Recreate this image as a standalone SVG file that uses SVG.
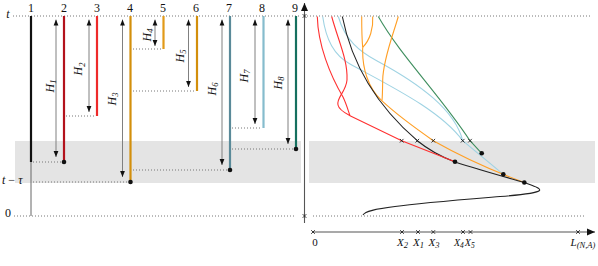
<svg xmlns="http://www.w3.org/2000/svg" width="598" height="266" viewBox="0 0 598 266">
<style>
.dot{stroke:#777;stroke-width:1;stroke-dasharray:1 2;fill:none}
.band{fill:#e4e4e4}
.col{fill:none;stroke-width:2.2}
.harr{stroke:#808080;stroke-width:1;fill:none;marker-start:url(#ah);marker-end:url(#ah)}
.lbl{font-family:"Liberation Serif","DejaVu Serif",serif;font-size:12px;fill:#111}
.axl{font-size:11px}
.it{font-style:italic}
.sub{font-size:8.5px}
.cv{fill:none;stroke-width:1.1}
.xm{stroke:#222;stroke-width:0.9;fill:none}
.ax{stroke:#555;stroke-width:1.1;fill:none}
</style>
<defs>
<marker id="ah" viewBox="0 0 6 6" refX="6" refY="3" markerWidth="6" markerHeight="6" markerUnits="userSpaceOnUse" orient="auto-start-reverse">
<path d="M0,0.6 L6,3 L0,5.4 z" fill="#111"/>
</marker>
<marker id="axh" viewBox="0 0 8 8" refX="8" refY="4" markerWidth="8" markerHeight="8" markerUnits="userSpaceOnUse" orient="auto">
<path d="M0,0.5 L8,4 L0,7.5 z" fill="#111"/>
</marker>
<path id="cx" d="M-1.8,-1.8 L1.8,1.8 M-1.8,1.8 L1.8,-1.8" class="xm"/>
</defs>
<rect width="598" height="266" fill="#fff"/>
<rect class="band" x="15" y="141" width="286" height="42"/>
<rect class="band" x="309" y="141" width="286" height="42"/>
<g id="levels">
<line class="dot" x1="13" y1="16" x2="299" y2="16"/>
<line class="dot" x1="14" y1="216" x2="296" y2="216"/>
<line class="dot" x1="307" y1="16" x2="591" y2="16"/>
<line class="dot" x1="313" y1="216" x2="584" y2="216"/>
<line class="dot" x1="33" y1="162" x2="63" y2="162"/>
<line class="dot" x1="66" y1="116" x2="96" y2="116"/>
<line class="dot" x1="33" y1="182" x2="129" y2="182"/>
<line class="dot" x1="133" y1="49" x2="162" y2="49"/>
<line class="dot" x1="133" y1="91" x2="196" y2="91"/>
<line class="dot" x1="133" y1="170" x2="229" y2="170"/>
<line class="dot" x1="232" y1="128" x2="262" y2="128"/>
<line class="dot" x1="232" y1="149" x2="295" y2="149"/>
</g>
<g id="left-labels" class="lbl">
<text x="8" y="18" class="it" text-anchor="middle">t</text>
<text x="2" y="184"><tspan class="it">t</tspan> − <tspan class="it">τ</tspan></text>
<text x="8" y="217" text-anchor="middle">0</text>
</g>
<g id="col1"><line x1="31" y1="16" x2="31" y2="162" class="col" stroke="#111" stroke-width="2.5"/><line x1="31" y1="162" x2="31" y2="216" stroke="#666" stroke-width="1"/><text class="lbl" x="31" y="12" text-anchor="middle">1</text></g>
<g id="col2"><line x1="64" y1="16" x2="64" y2="162" class="col" stroke="#b3121c"/><circle cx="64" cy="162" r="2.3" fill="#111"/><text class="lbl" x="64" y="12" text-anchor="middle">2</text>
<line class="harr" x1="56" y1="19.5" x2="56" y2="157"/><text class="lbl it" transform="translate(53.5,86) rotate(-90)" text-anchor="middle">H<tspan class="sub" dy="2.5">1</tspan></text></g>
<g id="col3"><line x1="97" y1="16" x2="97" y2="116" class="col" stroke="#ee2a2a"/><text class="lbl" x="97" y="12" text-anchor="middle">3</text>
<line class="harr" x1="89" y1="19.5" x2="89" y2="112"/><text class="lbl it" transform="translate(82,69) rotate(-90)" text-anchor="middle">H<tspan class="sub" dy="2.5">2</tspan></text></g>
<g id="col4"><line x1="130.5" y1="16" x2="130.5" y2="182" class="col" stroke="#d38f0c"/><circle cx="130.5" cy="182" r="2.3" fill="#111"/><text class="lbl" x="130" y="12" text-anchor="middle">4</text>
<line class="harr" x1="122.5" y1="19.5" x2="122.5" y2="177"/><text class="lbl it" transform="translate(115.5,99) rotate(-90)" text-anchor="middle">H<tspan class="sub" dy="2.5">3</tspan></text></g>
<g id="col5"><line x1="163.5" y1="16" x2="163.5" y2="49" class="col" stroke="#e29a18"/><text class="lbl" x="163" y="12" text-anchor="middle">5</text>
<line class="harr" x1="155" y1="19.5" x2="155" y2="46"/><text class="lbl it" transform="translate(150.5,35) rotate(-90)" text-anchor="middle">H<tspan class="sub" dy="2.5">4</tspan></text></g>
<g id="col6"><line x1="197" y1="16" x2="197" y2="91" class="col" stroke="#d38f0c"/><text class="lbl" x="196" y="12" text-anchor="middle">6</text>
<line class="harr" x1="188.5" y1="19.5" x2="188.5" y2="87"/><text class="lbl it" transform="translate(183.5,56) rotate(-90)" text-anchor="middle">H<tspan class="sub" dy="2.5">5</tspan></text></g>
<g id="col7"><line x1="230" y1="16" x2="230" y2="170" class="col" stroke="#5a8a99"/><circle cx="230" cy="170" r="2.3" fill="#111"/><text class="lbl" x="229" y="12" text-anchor="middle">7</text>
<line class="harr" x1="222" y1="19.5" x2="222" y2="165"/><text class="lbl it" transform="translate(215.5,89) rotate(-90)" text-anchor="middle">H<tspan class="sub" dy="2.5">6</tspan></text></g>
<g id="col8"><line x1="263.5" y1="16" x2="263.5" y2="128" class="col" stroke="#86bccd"/><text class="lbl" x="262" y="12" text-anchor="middle">8</text>
<line class="harr" x1="255" y1="19.5" x2="255" y2="124"/><text class="lbl it" transform="translate(247.5,76) rotate(-90)" text-anchor="middle">H<tspan class="sub" dy="2.5">7</tspan></text></g>
<g id="col9"><line x1="296" y1="16" x2="296" y2="149" class="col" stroke="#15705f"/><circle cx="296" cy="149" r="2.3" fill="#111"/><text class="lbl" x="295" y="12" text-anchor="middle">9</text>
<line class="harr" x1="288" y1="19.5" x2="288" y2="144"/><text class="lbl it" transform="translate(281.5,83) rotate(-90)" text-anchor="middle">H<tspan class="sub" dy="2.5">8</tspan></text></g>
<g id="axes">
<line class="ax" x1="304.5" y1="223" x2="304.5" y2="3" marker-end="url(#axh)"/>
<line class="ax" x1="313" y1="232" x2="595" y2="232" marker-end="url(#axh)"/>
<use href="#cx" x="304.5" y="16"/>
<use href="#cx" x="304.5" y="216"/>
<use href="#cx" x="313" y="232"/>
<use href="#cx" x="402" y="232"/>
<use href="#cx" x="418" y="232"/>
<use href="#cx" x="433.3" y="232"/>
<use href="#cx" x="463" y="232"/>
<use href="#cx" x="470.5" y="232"/>
<use href="#cx" x="578" y="232"/>
</g>
<g id="axis-labels" class="lbl axl">
<text x="315" y="245.5" text-anchor="middle">0</text>
<text x="397" y="245.5" class="it">X<tspan class="sub" dy="2">2</tspan></text>
<text x="413" y="245.5" class="it">X<tspan class="sub" dy="2">1</tspan></text>
<text x="428.5" y="245.5" class="it">X<tspan class="sub" dy="2">3</tspan></text>
<text x="454" y="245.5" class="it" style="font-size:10px">X<tspan class="sub" dy="2" style="font-size:7.5px">4</tspan></text>
<text x="464.8" y="245.5" class="it" style="font-size:10px">X<tspan class="sub" dy="2" style="font-size:7.5px">5</tspan></text>
<text x="570.5" y="245.5" class="it">L<tspan class="sub" dy="2">(N,A)</tspan></text>
</g>
<g id="connectors">
<path class="cv" stroke="#9fd3e3" d="M322.7,16.5 C326,40 334,55 350,64 C390,86 440,110 462.7,140.7 L503.3,174.3"/>
<path class="cv" stroke="#9fd3e3" d="M338.3,16.5 C345,40 360,52 376.7,60.7 C420,84 455,110 462.7,140.7"/>
<path class="cv" stroke="#3f8f5f" d="M378.3,16.5 C400,55 440,95 470,140.7 L481.7,153.3"/>
<path class="cv" stroke="#ff9f25" d="M361.7,16.5 C361.7,30 362,40 362.7,47.3"/>
<path class="cv" stroke="#ff9f25" d="M372.7,16.5 C373.5,28 370,40 362.7,47.3"/>
<path class="cv" stroke="#ff9f25" d="M398.3,16.5 C393,35 383,60 382.7,80 C382.5,90 382.5,96 382,100.5"/>
<path class="cv" stroke="#ff9f25" d="M362.7,47.3 C362,68 368,88 381.7,100.7 C395,113 415,128 433.3,140.7 C455,153 485,168 524.3,182.5"/>
<path class="cv" stroke="#222" d="M342.3,16.5 C350,55 370,100 417.3,140.7 C430,151 442,157 455,162 C480,170 505,177 524.3,182.5 C532,185.5 541,188 539.5,190.5 C537,193 520,195 500,196.5 C470,199 420,203 395,206.5 C375,209 365,211 363,215"/>
<path class="cv" stroke="#ff3030" d="M317.3,16.5 C318,45 330,75 343,97 C346,103 348,110 350,115.7"/>
<path class="cv" stroke="#ff3030" d="M331.7,16.5 C338,40 348,60 347,80 C346,92 336,98 338,105 C339,110 345,113 350,115.7"/>
<path class="cv" stroke="#ff3030" d="M350,115.7 C370,125.5 390,135 401.7,140.7 L455,161.7"/>
</g>
<g id="markers">
<use href="#cx" x="401.7" y="140.7"/>
<use href="#cx" x="417.3" y="140.7"/>
<use href="#cx" x="433.3" y="140.7"/>
<use href="#cx" x="462.7" y="140.7"/>
<use href="#cx" x="470" y="140.7"/>
<circle cx="455" cy="161.7" r="2.3" fill="#111"/>
<circle cx="481.7" cy="153.3" r="2.3" fill="#111"/>
<circle cx="503.3" cy="174.3" r="2.3" fill="#111"/>
<circle cx="524.3" cy="182.5" r="2.3" fill="#111"/>
</g>
</svg>
